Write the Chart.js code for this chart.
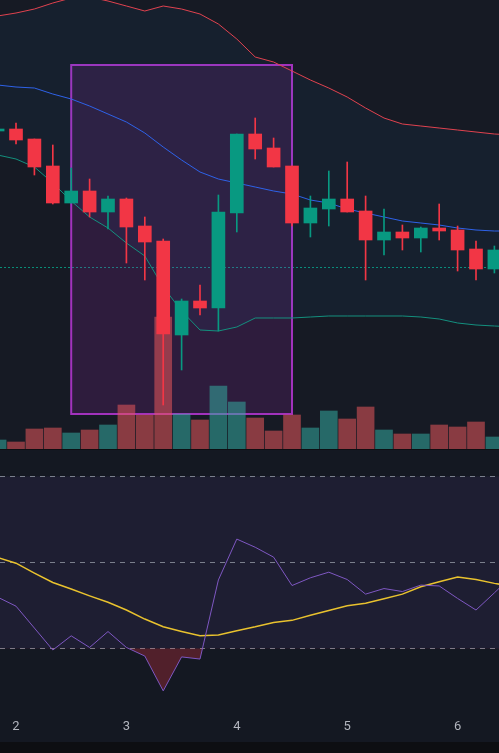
<!DOCTYPE html>
<html>
<head>
<meta charset="utf-8">
<script src="https://cdn.jsdelivr.net/npm/chart.js@4.4.1/dist/chart.umd.min.js"></script>
<style>
  html, body { margin: 0; padding: 0; background: #0d0e12; }
  body { width: 499px; height: 753px; position: relative; overflow: hidden; }
  #priceChart { position: absolute; left: 0; top: 0; }
  #rsiChart { position: absolute; left: 0; top: 450px; }
</style>
</head>
<body>
<canvas id="priceChart" width="499" height="449"></canvas>
<canvas id="rsiChart" width="499" height="292"></canvas>
<script>
// candle index -1 .. 26 (4h candles, 6 per day)
const candleIdx = [-1, 0, 1, 2, 3, 4, 5, 6, 7, 8, 9, 10, 11, 12, 13, 14, 15, 16, 17, 18, 19, 20, 21, 22, 23, 24, 25, 26];
const opens  = [46.9, 47.1, 46.1, 43.4, 39.7, 40.9, 38.8, 40.1, 37.4, 35.9, 26.5, 29.9, 29.2, 38.7, 46.6, 45.2, 43.4, 37.7, 39.1, 40.1, 38.9, 36.0, 36.8, 36.2, 37.2, 37.0, 35.1, 33.1];
const highs  = [47.2, 47.7, 46.1, 45.5, 43.2, 42.1, 40.4, 40.2, 38.3, 36.1, 30.1, 31.5, 40.5, 46.6, 48.2, 46.2, 43.4, 40.4, 42.9, 43.8, 40.4, 39.1, 37.5, 37.3, 39.6, 37.4, 35.9, 35.4];
const lows   = [46.8, 45.6, 42.5, 39.6, 39.7, 38.3, 37.1, 33.7, 32.0, 19.5, 23.0, 28.5, 26.9, 36.8, 44.1, 43.3, 37.4, 36.3, 37.4, 38.8, 32.0, 34.5, 35.0, 34.8, 36.0, 32.9, 32.0, 32.7];
const closes = [47.1, 46.0, 43.3, 39.7, 40.9, 38.8, 40.1, 37.3, 35.8, 26.6, 29.9, 29.2, 38.8, 46.6, 45.1, 43.3, 37.7, 39.2, 40.1, 38.8, 36.0, 36.8, 36.2, 37.2, 36.9, 35.0, 33.1, 35.0];
const volumes = [9, 7, 20, 21, 16, 19, 24, 44, 34, 132, 35, 29, 63, 47, 31, 18, 34, 21, 38, 30, 42, 19, 15, 15, 24, 22, 27, 12];

// indicator lines run one candle further (just past the right edge)
const lineIdx = [-1, 0, 1, 2, 3, 4, 5, 6, 7, 8, 9, 10, 11, 12, 13, 14, 15, 16, 17, 18, 19, 20, 21, 22, 23, 24, 25, 26, 27];

// Bollinger bands
const bbUpper = [58.4, 58.7, 59.1, 59.7, 60.2, 60.3, 59.9, 59.4, 58.9, 59.4, 59.1, 58.6, 57.6, 56.1, 54.3, 53.8, 52.9, 52.0, 51.2, 50.3, 49.2, 48.2, 47.6, 47.4, 47.2, 47.0, 46.8, 46.6, 46.5];
const bbBasis = [51.5, 51.3, 51.2, 50.6, 50.1, 49.4, 48.6, 47.8, 46.7, 45.3, 44.0, 42.8, 42.1, 41.7, 41.3, 40.9, 40.6, 40.0, 39.7, 39.1, 38.7, 38.3, 37.9, 37.7, 37.5, 37.2, 37.0, 36.9, 36.9];
const bbLower = [44.5, 44.1, 43.3, 41.7, 39.9, 38.3, 37.2, 35.7, 34.4, 31.3, 28.9, 27.0, 26.9, 27.3, 28.2, 28.2, 28.2, 28.3, 28.4, 28.4, 28.4, 28.4, 28.4, 28.3, 28.1, 27.7, 27.5, 27.4, 27.3];

// RSI and its moving average
const rsi   = [41.9, 39.8, 34.7, 29.6, 32.9, 30.2, 33.9, 30.2, 28.2, 20.1, 28.0, 27.5, 45.9, 55.4, 53.5, 51.2, 44.6, 46.4, 47.7, 46.0, 42.6, 43.9, 43.2, 44.7, 44.5, 41.6, 38.9, 42.9, 47.0];
const rsiMa = [51.1, 49.8, 47.5, 45.3, 43.8, 42.2, 40.7, 38.9, 36.8, 35.0, 33.9, 32.9, 33.1, 34.1, 35.0, 36.0, 36.5, 37.7, 38.8, 39.9, 40.5, 41.5, 42.6, 44.3, 45.5, 46.6, 46.0, 45.1, 44.4];
const rsiLevels = [70, 50, 30];

// time axis
const dayTicks = [0, 6, 12, 18, 24];
const dayLabels = ['2', '3', '4', '5', '6'];

const refPrice = 33.3;
const box = { from: 3, to: 15, top: 53.5, bottom: 18.6 };

const UP = '#089981', DOWN = '#f23645';
const isUp = candleIdx.map((_, i) => closes[i] >= opens[i]);
const candleColors = isUp.map(u => u ? UP : DOWN);
const volColors = isUp.map(u => u ? 'rgba(53,171,160,0.55)' : 'rgba(233,88,91,0.55)');
const pts = arr => lineIdx.map((x, i) => ({ x: x, y: arr[i] }));

const xRange = { min: -0.87, max: 26.25 };

const bgPlugin = {
  id: 'bg',
  beforeDraw(chart, args, opts) {
    const c = chart.ctx;
    c.save();
    c.fillStyle = opts.color;
    c.fillRect(0, 0, chart.width, chart.height);
    c.restore();
  }
};

const boxPlugin = {
  id: 'box',
  beforeDatasetsDraw(chart) {
    const c = chart.ctx, xs = chart.scales.x, ys = chart.scales.y;
    const x0 = xs.getPixelForValue(box.from), x1 = xs.getPixelForValue(box.to);
    const y0 = ys.getPixelForValue(box.top), y1 = ys.getPixelForValue(box.bottom);
    c.save();
    // dotted reference line
    c.strokeStyle = 'rgba(8,153,129,0.9)';
    c.lineWidth = 1;
    c.setLineDash([2, 2]);
    const yr = Math.round(ys.getPixelForValue(refPrice)) + 0.5;
    c.beginPath();
    c.moveTo(0, yr);
    c.lineTo(chart.width, yr);
    c.stroke();
    c.setLineDash([]);
    c.fillStyle = 'rgba(156,39,176,0.18)';
    c.fillRect(x0, y0, x1 - x0, y1 - y0);
    c.strokeStyle = '#a232bd';
    c.lineWidth = 2;
    c.strokeRect(x0, y0, x1 - x0, y1 - y0);
    c.restore();
  }
};

new Chart(document.getElementById('priceChart'), {
  data: {
    datasets: [
      {
        type: 'bar', label: 'body', order: 0, grouped: false,
        data: candleIdx.map((x, i) => ({ x: x, y: [opens[i], closes[i]] })),
        backgroundColor: candleColors, barThickness: 13, borderWidth: 0, minBarLength: 1
      },
      {
        type: 'bar', label: 'wick', order: 1, grouped: false,
        data: candleIdx.map((x, i) => ({ x: x, y: [lows[i], highs[i]] })),
        backgroundColor: candleColors, barThickness: 1, borderWidth: 0
      },
      {
        type: 'line', label: 'upper', order: 2, data: pts(bbUpper),
        borderColor: '#e0424f', borderWidth: 1, pointRadius: 0,
        fill: { target: 4 }, backgroundColor: 'rgba(33,150,243,0.05)'
      },
      {
        type: 'line', label: 'basis', order: 2, data: pts(bbBasis),
        borderColor: '#2f5fe8', borderWidth: 1, pointRadius: 0, fill: false
      },
      {
        type: 'line', label: 'lower', order: 2, data: pts(bbLower),
        borderColor: '#14907c', borderWidth: 1, pointRadius: 0, fill: false
      },
      {
        type: 'bar', label: 'volume', order: 3, grouped: false, yAxisID: 'vol',
        data: candleIdx.map((x, i) => ({ x: x, y: volumes[i] })),
        backgroundColor: volColors, barThickness: 17, borderWidth: 0
      }
    ]
  },
  options: {
    responsive: false,
    animation: false,
    devicePixelRatio: 1,
    events: [],
    layout: { padding: 0 },
    scales: {
      x: { type: 'linear', min: xRange.min, max: xRange.max, offset: false, display: false },
      y: { type: 'linear', min: 15.1, max: 60, display: false },
      vol: { type: 'linear', min: 0, max: 449, display: false }
    },
    plugins: {
      legend: { display: false },
      tooltip: { enabled: false },
      bg: { color: '#161a24' }
    }
  },
  plugins: [bgPlugin, boxPlugin]
});

const rsiBandPlugin = {
  id: 'rsiBand',
  beforeDatasetsDraw(chart) {
    const c = chart.ctx, ys = chart.scales.y;
    const yTop = ys.getPixelForValue(rsiLevels[0]);
    const yBot = ys.getPixelForValue(rsiLevels[2]);
    c.save();
    c.fillStyle = 'rgba(126,87,194,0.1)';
    c.fillRect(0, yTop, chart.width, yBot - yTop);
    c.strokeStyle = 'rgba(140,144,158,0.85)';
    c.lineWidth = 1;
    c.setLineDash([5, 5]);
    rsiLevels.forEach(v => {
      const y = Math.round(ys.getPixelForValue(v)) + 0.5;
      c.beginPath();
      c.moveTo(0, y);
      c.lineTo(chart.width, y);
      c.stroke();
    });
    c.restore();
  }
};

new Chart(document.getElementById('rsiChart'), {
  type: 'line',
  data: {
    datasets: [
      {
        label: 'RSI', data: pts(rsi), order: 0,
        borderColor: '#7e57c2', borderWidth: 1, pointRadius: 0,
        fill: { target: { value: 30 }, above: 'rgba(0,0,0,0)', below: 'rgba(242,54,69,0.28)' }
      },
      {
        label: 'RSI MA', data: pts(rsiMa), order: 1,
        borderColor: '#e9c22e', borderWidth: 1.5, pointRadius: 0, fill: false
      }
    ]
  },
  options: {
    responsive: false,
    animation: false,
    devicePixelRatio: 1,
    events: [],
    layout: { padding: 0 },
    scales: {
      x: {
        type: 'linear', min: xRange.min, max: xRange.max,
        grid: { display: false, drawTicks: false },
        border: { display: false },
        afterBuildTicks: s => { s.ticks = dayTicks.map(v => ({ value: v })); },
        afterFit: s => { s.height = 32; },
        ticks: {
          autoSkip: false, maxRotation: 0, padding: 9,
          color: '#b2b5be', font: { family: 'Roboto', size: 13 },
          callback: v => dayLabels[dayTicks.indexOf(v)]
        }
      },
      y: { type: 'linear', min: 15.65, max: 76.12, display: false }
    },
    plugins: {
      legend: { display: false },
      tooltip: { enabled: false },
      bg: { color: '#141822' }
    }
  },
  plugins: [bgPlugin, rsiBandPlugin]
});
</script>
</body>
</html>
